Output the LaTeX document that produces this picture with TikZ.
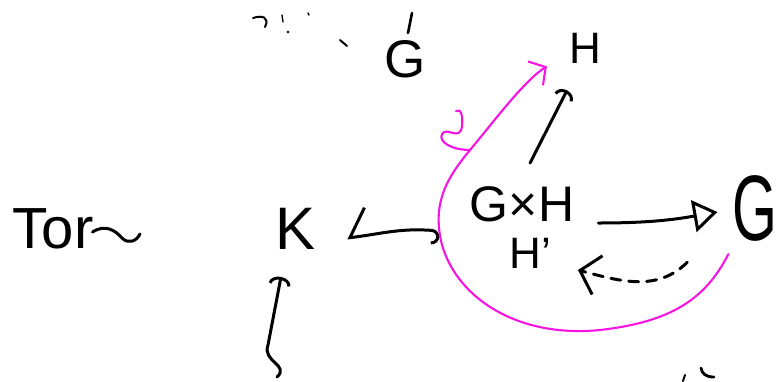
\documentclass[tikz,border=0pt]{standalone}
\usepackage{fontspec}
\setmainfont{Liberation Sans}
\usetikzlibrary{arrows.meta,calc}
\definecolor{PenInk}{RGB}{0,0,0}
\definecolor{PenMagenta}{RGB}{245,20,225}

\begin{document}
\begin{tikzpicture}[
        x=1pt, y=-1pt,
        ink/.style={
            draw=PenInk,
            line width=3pt,
            line cap=round,
            line join=round
        },
        scrap/.style={
            ink,
            line width=2pt
        },
        pen/.style={
            draw=PenMagenta,
            line width=2.1pt,
            line cap=round,
            line join=round
        },
        word/.style={
            inner sep=0pt,
            text=PenInk
        }
    ]
        \useasboundingbox (0,0) rectangle (784,381);

        \node[word, font=\fontsize{58}{58}\selectfont] (tor) at (53,229) {Tor};
        \node[word, font=\fontsize{53}{53}\selectfont] (topG) at (405,59) {G};
        \node[word, font=\fontsize{60}{60}\selectfont] (K) at (296,229) {K};
        \node[word, font=\fontsize{50}{50}\selectfont] (gh) at (522,204) {G×H};
        \node[word, font=\fontsize{44}{44}\selectfont] (hp) at (530,253) {H'};
        \node[word, font=\fontsize{44}{44}\selectfont] (H) at (585,48) {H};
        \node[word, font=\fontsize{93}{93}\selectfont] (bigG) at (755,208) {\scalebox{0.62}[1]{G}};
        \coordinate (ktail) at (277,377);

        \draw[ink] ($(tor.east)+(-1,3)$) .. controls (105,224) and (115,230) .. (122,238)
            .. controls (128,244) and (136,242) .. (140,234);

        \draw[ink, {Straight Barb[right,length=18pt,width=56pt]}-{Hooks[right,length=8pt,width=28pt]}]
            ($(K.east)+(31,9)$) .. controls (380,234) and (400,228) .. ($(gh.west)+(-30,27)$);
        \draw[ink, -{Arc Barb[length=8pt,width=22pt]}]
            (ktail) .. controls (290,365) and (262,362) .. (268,345) -- ($(K.south)+(-15,27)$);
        \draw[ink, -{Arc Barb[length=8pt,width=20pt]}]
            ($(gh.north)+(8,-23)$) -- ($(H.south)+(-18,27)$);
        \draw[ink, -{Triangle[open,length=24pt,width=32pt]}]
            ($(gh.east)+(24,19)$) to[out=0, in=190] ($(bigG.west)+(-15,4)$);
        \draw[ink, dash pattern=on 10pt off 8pt, -{Straight Barb[length=18pt,width=40pt]}]
            ($(bigG.south west)+(-45,21)$) to[out=225, in=-15] ($(hp.east)+(27,17)$);

        \draw[pen, -{Straight Barb[length=12pt,width=28pt]}]
            ($(bigG.south west)+(-4,13)$) .. controls (705,300) and (670,322) .. (600,330)
            .. controls (520,338) and (458,300) .. (442,245)
            .. controls (432,205) and (445,180) .. (470,150)
            .. controls (495,120) and (525,80) .. ($(H.south west)+(-22,3)$);
        \draw[pen] (470,150) .. controls (452,150) and (438,142) .. (442,134)
            .. controls (447,126) and (460,142) .. (462,126)
            .. controls (463,116) and (461,108) .. (456,111);

        \draw[scrap] (253,18) .. controls (262,15) and (270,17) .. (265,27);
        \draw[scrap, line width=1.4pt] (282,15) -- (283,22);
        \fill[PenInk] (288,32) circle (1.4pt);
        \draw[scrap, line width=1.4pt] (308,13) -- (309,15);
        \draw[scrap] (340,40) -- (347,46);
        \draw[scrap, line width=2.6pt] (412,13) -- (408,33);
        \draw[scrap] (683,381) -- (685,375);
        \draw[scrap, line width=2.8pt] (701,368) .. controls (702,374) and (706,377) .. (714,377);
    \end{tikzpicture}
\end{document}
